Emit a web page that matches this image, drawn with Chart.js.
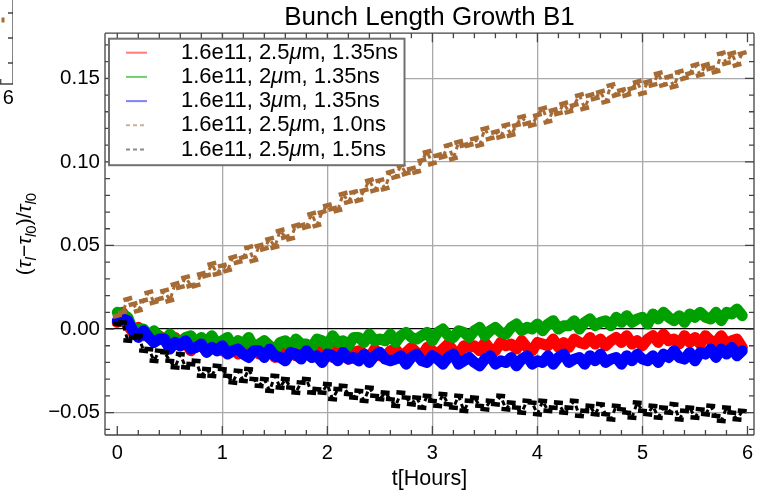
<!DOCTYPE html>
<html>
<head>
<meta charset="utf-8">
<title>Bunch Length Growth B1</title>
<script src="https://cdn.jsdelivr.net/npm/chart.js@4.4.1/dist/chart.umd.min.js"></script>
<style>
  body { margin: 0; background: #fff; }
  #wrap { position: relative; width: 763px; height: 492px; overflow: hidden; }
  #chart { position: absolute; left: 0; top: 0; }
  #edge { position: absolute; left: -47px; top: 0; }
</style>
</head>
<body>
<div id="wrap">
  <canvas id="chart" width="763" height="492"></canvas>
  <canvas id="edge" width="60" height="110"></canvas>
</div>
<script>
const FONT = "'Liberation Sans', Arial, sans-serif";

// time in hours, one sample every 3 minutes
const times = [
  0, 0.05, 0.1, 0.15, 0.2, 0.25, 0.3, 0.35, 0.4, 0.45,
  0.5, 0.55, 0.6, 0.65, 0.7, 0.75, 0.8, 0.85, 0.9, 0.95,
  1, 1.05, 1.1, 1.15, 1.2, 1.25, 1.3, 1.35, 1.4, 1.45,
  1.5, 1.55, 1.6, 1.65, 1.7, 1.75, 1.8, 1.85, 1.9, 1.95,
  2, 2.05, 2.1, 2.15, 2.2, 2.25, 2.3, 2.35, 2.4, 2.45,
  2.5, 2.55, 2.6, 2.65, 2.7, 2.75, 2.8, 2.85, 2.9, 2.95,
  3, 3.05, 3.1, 3.15, 3.2, 3.25, 3.3, 3.35, 3.4, 3.45,
  3.5, 3.55, 3.6, 3.65, 3.7, 3.75, 3.8, 3.85, 3.9, 3.95,
  4, 4.05, 4.1, 4.15, 4.2, 4.25, 4.3, 4.35, 4.4, 4.45,
  4.5, 4.55, 4.6, 4.65, 4.7, 4.75, 4.8, 4.85, 4.9, 4.95,
  5, 5.05, 5.1, 5.15, 5.2, 5.25, 5.3, 5.35, 5.4, 5.45,
  5.5, 5.55, 5.6, 5.65, 5.7, 5.75, 5.8, 5.85, 5.9, 5.95
];

const seriesLabels = [
  "1.6e11, 2.5μm, 1.35ns",
  "1.6e11, 2μm, 1.35ns",
  "1.6e11, 3μm, 1.35ns",
  "1.6e11, 2.5μm, 1.0ns",
  "1.6e11, 2.5μm, 1.5ns"
];

// relative bunch length growth (tau - tau0) / tau0
const eps25_135 = [
  0.004, 0.010, 0.002, -0.002, 0.001, -0.004, -0.003, -0.008, -0.004, -0.007,
  -0.010, -0.005, -0.010, -0.008, -0.013, -0.008, -0.010, -0.013, -0.010, -0.008,
  -0.013, -0.014, -0.010, -0.015, -0.013, -0.012, -0.010, -0.015, -0.015, -0.012,
  -0.017, -0.013, -0.014, -0.011, -0.016, -0.015, -0.012, -0.017, -0.013, -0.014,
  -0.013, -0.017, -0.012, -0.016, -0.018, -0.014, -0.013, -0.015, -0.017, -0.012,
  -0.016, -0.017, -0.013, -0.012, -0.016, -0.014, -0.011, -0.014, -0.016, -0.011,
  -0.013, -0.015, -0.012, -0.009, -0.013, -0.015, -0.010, -0.011, -0.010, -0.013,
  -0.008, -0.012, -0.013, -0.008, -0.010, -0.009, -0.012, -0.007, -0.011, -0.013,
  -0.008, -0.009, -0.010, -0.006, -0.011, -0.008, -0.011, -0.006, -0.008, -0.009,
  -0.005, -0.009, -0.006, -0.010, -0.007, -0.005, -0.008, -0.004, -0.009, -0.007,
  -0.010, -0.006, -0.004, -0.008, -0.003, -0.007, -0.006, -0.009, -0.004, -0.008,
  -0.005, -0.009, -0.004, -0.007, -0.008, -0.004, -0.009, -0.007, -0.006, -0.011
];
const eps2_135 = [
  0.010, 0.009, 0.007, -0.001, 0.000, 0.000, -0.005, -0.001, -0.005, -0.007,
  -0.003, -0.006, -0.008, -0.005, -0.004, -0.009, -0.005, -0.008, -0.004, -0.009,
  -0.007, -0.005, -0.011, -0.007, -0.009, -0.005, -0.011, -0.009, -0.007, -0.010,
  -0.013, -0.008, -0.007, -0.011, -0.006, -0.009, -0.009, -0.011, -0.006, -0.007,
  -0.010, -0.004, -0.008, -0.007, -0.010, -0.005, -0.005, -0.008, -0.003, -0.007,
  -0.006, -0.007, -0.003, -0.008, -0.004, -0.002, -0.005, -0.006, -0.004, -0.002,
  -0.007, -0.002, 0.000, -0.004, -0.005, -0.001, -0.002, -0.005, -0.001, 0.001,
  -0.004, -0.001, 0.001, -0.002, -0.003, 0.001, 0.003, -0.001, 0.001, 0.000,
  0.003, -0.001, 0.003, 0.005, 0.000, 0.002, 0.002, 0.005, 0.000, 0.004,
  0.006, 0.002, 0.004, 0.005, 0.002, 0.007, 0.004, 0.008, 0.004, 0.006,
  0.007, 0.003, 0.009, 0.006, 0.010, 0.007, 0.005, 0.008, 0.004, 0.009,
  0.007, 0.010, 0.007, 0.006, 0.010, 0.005, 0.010, 0.009, 0.012, 0.008
];
const eps3_135 = [
  0.005, 0.006, 0.005, -0.001, -0.005, -0.001, -0.005, -0.008, -0.006, -0.006,
  -0.012, -0.008, -0.010, -0.007, -0.012, -0.011, -0.009, -0.014, -0.011, -0.013,
  -0.010, -0.015, -0.013, -0.012, -0.015, -0.017, -0.013, -0.013, -0.017, -0.012,
  -0.016, -0.017, -0.019, -0.014, -0.015, -0.018, -0.013, -0.017, -0.016, -0.020,
  -0.015, -0.016, -0.019, -0.014, -0.018, -0.017, -0.019, -0.015, -0.020, -0.016,
  -0.014, -0.018, -0.019, -0.018, -0.016, -0.021, -0.017, -0.015, -0.019, -0.020,
  -0.016, -0.018, -0.021, -0.017, -0.015, -0.021, -0.019, -0.017, -0.020, -0.022,
  -0.018, -0.016, -0.021, -0.019, -0.020, -0.017, -0.022, -0.018, -0.016, -0.021,
  -0.019, -0.020, -0.016, -0.021, -0.017, -0.015, -0.020, -0.018, -0.017, -0.021,
  -0.016, -0.019, -0.015, -0.020, -0.018, -0.017, -0.021, -0.016, -0.019, -0.015,
  -0.018, -0.019, -0.016, -0.020, -0.015, -0.017, -0.013, -0.017, -0.018, -0.014,
  -0.019, -0.014, -0.015, -0.012, -0.017, -0.012, -0.015, -0.011, -0.016, -0.013
];
const eps25_10 = [
  0.008, 0.010, 0.018, 0.015, 0.011, 0.017, 0.022, 0.016, 0.018, 0.023,
  0.017, 0.027, 0.025, 0.031, 0.026, 0.026, 0.033, 0.032, 0.039, 0.033,
  0.038, 0.035, 0.043, 0.040, 0.043, 0.049, 0.041, 0.050, 0.048, 0.054,
  0.049, 0.059, 0.055, 0.054, 0.062, 0.062, 0.061, 0.069, 0.062, 0.070,
  0.074, 0.072, 0.071, 0.081, 0.076, 0.082, 0.077, 0.083, 0.089, 0.083,
  0.089, 0.084, 0.094, 0.091, 0.098, 0.093, 0.096, 0.094, 0.101, 0.106,
  0.099, 0.104, 0.103, 0.110, 0.102, 0.112, 0.110, 0.110, 0.114, 0.110,
  0.120, 0.114, 0.118, 0.115, 0.122, 0.116, 0.122, 0.127, 0.123, 0.122,
  0.128, 0.132, 0.124, 0.131, 0.129, 0.135, 0.130, 0.134, 0.140, 0.132,
  0.140, 0.138, 0.142, 0.136, 0.146, 0.140, 0.143, 0.140, 0.144, 0.148,
  0.141, 0.148, 0.146, 0.153, 0.146, 0.151, 0.145, 0.154, 0.150, 0.153,
  0.158, 0.152, 0.158, 0.156, 0.154, 0.165, 0.159, 0.165, 0.158, 0.165
];
const eps25_15 = [
  0.003, 0.004, -0.007, -0.005, -0.004, -0.013, -0.012, -0.019, -0.013, -0.014,
  -0.019, -0.023, -0.015, -0.023, -0.021, -0.019, -0.028, -0.024, -0.028, -0.022,
  -0.024, -0.028, -0.032, -0.025, -0.031, -0.024, -0.030, -0.034, -0.030, -0.037,
  -0.028, -0.035, -0.030, -0.035, -0.038, -0.032, -0.030, -0.038, -0.036, -0.038,
  -0.033, -0.042, -0.036, -0.034, -0.039, -0.041, -0.037, -0.043, -0.035, -0.040,
  -0.042, -0.038, -0.042, -0.046, -0.038, -0.041, -0.045, -0.041, -0.047, -0.040,
  -0.043, -0.046, -0.039, -0.045, -0.047, -0.040, -0.049, -0.043, -0.041, -0.046,
  -0.048, -0.043, -0.045, -0.040, -0.048, -0.044, -0.047, -0.050, -0.043, -0.044,
  -0.051, -0.043, -0.049, -0.047, -0.044, -0.050, -0.047, -0.043, -0.052, -0.049,
  -0.046, -0.051, -0.045, -0.051, -0.054, -0.046, -0.048, -0.050, -0.053, -0.044,
  -0.049, -0.051, -0.046, -0.053, -0.047, -0.050, -0.045, -0.054, -0.049, -0.047,
  -0.053, -0.048, -0.051, -0.046, -0.052, -0.055, -0.047, -0.050, -0.054, -0.049
];

const xTicks = [0, 1, 2, 3, 4, 5, 6];
const yTicks = [-0.05, 0, 0.05, 0.1, 0.15];

// axis label pieces: [text, style] style bit 1 = italic, bit 2 = subscript
const yTitleParts = [
  ["(", 0], ["τ", 1], ["l", 3], ["\u2212", 0], ["τ", 1], ["l", 3], ["0", 2],
  [")/", 0], ["τ", 1], ["l", 3], ["0", 2]
];

// right edge of the neighbouring panel
const edgeTimes = [5.86];
const edgeValues = [2.56];
const edgeYTicks = [0.84, 1.84, 2.84];

Chart.defaults.font.family = FONT;

const pts = (ys) => ys.map((y, i) => ({ x: times[i], y }));

function band(label, data, color, legendColor, order) {
  return {
    label, data: pts(data), borderColor: color, backgroundColor: color,
    borderWidth: 11, borderJoinStyle: "round", borderCapStyle: "round",
    pointRadius: 0, tension: 0, order, legendColor, legendDash: []
  };
}

// dashed trace plus short dash marks on each sample
function dashed(label, data, color, legendColor, rotation, order) {
  return {
    label, data: pts(data), borderColor: color, backgroundColor: color,
    borderWidth: 3, borderDash: [5, 4], borderJoinStyle: "round", tension: 0,
    pointStyle: "line", pointRadius: 4.5, pointBorderWidth: 4.5,
    pointBorderColor: color, pointBackgroundColor: color, pointRotation: rotation,
    order, legendColor, legendDash: [4, 3]
  };
}

// keep edge labels from shrinking the plot area
const noEdgePadding = s => { s.paddingLeft = 0; s.paddingRight = 0; };

// frame with inward ticks
const frame = {
  id: "frame",
  afterDatasetsDraw(chart, args, o) {
    const { ctx, chartArea: a, scales: { x, y } } = chart;
    const sides = o.sides || ["top", "right", "bottom", "left"];
    ctx.save();
    ctx.strokeStyle = o.color || "#444";
    ctx.lineWidth = o.width || 1.3;
    ctx.beginPath();
    if (sides.includes("top")) { ctx.moveTo(a.left, a.top); ctx.lineTo(a.right, a.top); }
    if (sides.includes("bottom")) { ctx.moveTo(a.left, a.bottom); ctx.lineTo(a.right, a.bottom); }
    if (sides.includes("left")) { ctx.moveTo(a.left, a.top); ctx.lineTo(a.left, a.bottom); }
    if (sides.includes("right")) { ctx.moveTo(a.right, a.top); ctx.lineTo(a.right, a.bottom); }
    const xt = (vals, len) => vals.forEach(v => {
      const px = x.getPixelForValue(v);
      if (px < a.left || px > a.right) return;
      if (sides.includes("bottom")) { ctx.moveTo(px, a.bottom); ctx.lineTo(px, a.bottom - len); }
      if (sides.includes("top")) { ctx.moveTo(px, a.top); ctx.lineTo(px, a.top + len); }
    });
    const yt = (vals, len) => vals.forEach(v => {
      const py = y.getPixelForValue(v);
      if (py < a.top || py > a.bottom) return;
      if (sides.includes("left")) { ctx.moveTo(a.left, py); ctx.lineTo(a.left + len, py); }
      if (sides.includes("right")) { ctx.moveTo(a.right, py); ctx.lineTo(a.right - len, py); }
    });
    xt(o.xMajor || [], 9); xt(o.xMinor || [], 5);
    yt(o.yMajor || [], 9); yt(o.yMinor || [], 5);
    ctx.stroke();
    ctx.restore();
  }
};

const yTitle = {
  id: "yTitle",
  afterDraw(chart) {
    const { ctx, chartArea: a } = chart;
    const fontOf = k => (k & 1 ? "italic " : "") + (k & 2 ? 15 : 21) + "px " + FONT;
    ctx.save();
    let w = 0;
    yTitleParts.forEach(([s, k]) => { ctx.font = fontOf(k); w += ctx.measureText(s).width; });
    ctx.translate(27, (a.top + a.bottom) / 2);
    ctx.rotate(-Math.PI / 2);
    ctx.fillStyle = "#000";
    ctx.textBaseline = "alphabetic";
    let px = -w / 2;
    yTitleParts.forEach(([s, k]) => {
      ctx.font = fontOf(k);
      ctx.fillText(s, px, k & 2 ? 9 : 4);
      px += ctx.measureText(s).width;
    });
    ctx.restore();
  }
};

const insetLegend = {
  id: "insetLegend",
  afterDraw(chart) {
    const { ctx, chartArea: a } = chart;
    const bx = a.left + 4, by = a.top + 5.5, bw = 295.5, bh = 126.5;
    ctx.save();
    ctx.fillStyle = "#fff";
    ctx.fillRect(bx, by, bw, bh);
    ctx.strokeStyle = "#707070";
    ctx.lineWidth = 2;
    ctx.strokeRect(bx, by, bw, bh);
    ctx.textBaseline = "middle";
    ctx.fillStyle = "#000";
    chart.data.datasets.forEach((ds, i) => {
      const ly = by + 14 + i * 24.2;
      ctx.strokeStyle = ds.legendColor;
      ctx.lineWidth = 2;
      ctx.setLineDash(ds.legendDash);
      ctx.beginPath();
      ctx.moveTo(bx + 17, ly);
      ctx.lineTo(bx + 38, ly);
      ctx.stroke();
      ctx.setLineDash([]);
      let tx = bx + 72;
      ds.label.split(/(μ)/).forEach(part => {
        ctx.font = (part === "μ" ? "italic " : "") + "22px " + FONT;
        ctx.fillText(part, tx, ly);
        tx += ctx.measureText(part).width;
      });
    });
    ctx.restore();
  }
};

const xMinor = [];
for (let i = 1; i < 30; i++) if (i % 5) xMinor.push(i / 5);
const yMinor = [];
for (let i = -6; i <= 17; i++) if (i % 5) yMinor.push(i / 100);

const gridGray = "#a9a9a9";

new Chart(document.getElementById("chart"), {
  type: "line",
  data: {
    datasets: [
      band(seriesLabels[0], eps25_135, "#ff0000", "#ff7a7a", 5),
      band(seriesLabels[1], eps2_135, "#00a000", "#6fcf6f", 4),
      band(seriesLabels[2], eps3_135, "#0000ff", "#8080ff", 3),
      dashed(seriesLabels[3], eps25_10, "#a66b35", "#cdb196", -15, 2),
      dashed(seriesLabels[4], eps25_15, "#000000", "#8a8a8a", 5, 1)
    ]
  },
  options: {
    responsive: false,
    animation: false,
    events: [],
    layout: { autoPadding: false, padding: { top: 0, right: 9, bottom: 0, left: 0 } },
    plugins: {
      legend: { display: false },
      tooltip: { enabled: false },
      title: {
        display: true, text: "Bunch Length Growth B1", color: "#000",
        font: { size: 26, weight: "normal" }, fullSize: false,
        padding: { top: 2, bottom: 0 }
      },
      frame: { xMajor: xTicks, xMinor, yMajor: yTicks, yMinor }
    },
    scales: {
      x: {
        type: "linear", min: -0.117, max: 6.062,
        afterBuildTicks: s => { s.ticks = xTicks.map(v => ({ value: v })); },
        afterFit: s => { s.height = 57; noEdgePadding(s); },
        grid: {
          color: c => (c.tick && (c.tick.value === 0 || c.tick.value === 6)) ? "rgba(0,0,0,0)" : gridGray,
          lineWidth: 1.3, drawTicks: false
        },
        border: { display: false },
        ticks: { color: "#000", font: { size: 20 }, padding: 6, maxRotation: 0, autoSkip: false, callback: v => String(v) },
        title: { display: true, text: "t[Hours]", color: "#000", font: { size: 21.5 }, padding: { top: 0, bottom: 0 } }
      },
      y: {
        min: -0.0634, max: 0.177,
        afterBuildTicks: s => { s.ticks = yTicks.map(v => ({ value: v })); },
        afterFit: s => { s.width = 105; },
        grid: {
          color: c => (c.tick && c.tick.value === 0) ? "#000" : gridGray,
          lineWidth: 1.3, drawTicks: false
        },
        border: { display: false },
        ticks: { color: "#000", font: { size: 20.5 }, padding: 5, callback: v => v.toFixed(2).replace("-", "\u2212") }
      }
    }
  },
  plugins: [frame, yTitle, insetLegend]
});

new Chart(document.getElementById("edge"), {
  type: "line",
  data: {
    datasets: [{
      data: edgeTimes.map((x, i) => ({ x, y: edgeValues[i] })),
      showLine: false, pointStyle: "line", pointRadius: 2.5, pointRotation: 90,
      pointBorderWidth: 3, pointBorderColor: "#a66b35", pointBackgroundColor: "#a66b35"
    }]
  },
  options: {
    responsive: false,
    animation: false,
    events: [],
    layout: { autoPadding: false, padding: { top: 0, right: 0, bottom: 0, left: 17 } },
    plugins: {
      legend: { display: false },
      tooltip: { enabled: false },
      frame: { sides: ["right", "bottom"], xMinor: [5.8], yMinor: edgeYTicks }
    },
    scales: {
      x: {
        type: "linear", min: 5, max: 6.12,
        afterBuildTicks: s => { s.ticks = [{ value: 6 }]; },
        afterFit: s => { s.height = 26; noEdgePadding(s); },
        grid: { display: false, drawTicks: false },
        border: { display: false },
        ticks: { color: "#000", font: { size: 20 }, padding: 2, callback: v => String(v) }
      },
      y: { display: false, min: 0, max: 3.36 }
    }
  },
  plugins: [frame]
});
</script>
</body>
</html>
